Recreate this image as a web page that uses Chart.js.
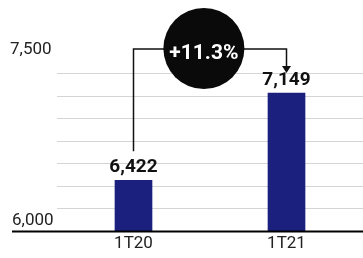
<!DOCTYPE html>
<html><head><meta charset="utf-8">
<script src="https://cdn.jsdelivr.net/npm/chart.js@4.4.1/dist/chart.umd.min.js"></script>
<style>html,body{margin:0;padding:0;background:#fff}#wrap{width:363px;height:258px}</style>
</head><body><div id="wrap"><canvas id="c" width="363" height="258"></canvas></div>
<script>
const categories = ['1T20', '1T21'];
const values = [6422, 7149];
const yTickValues = [7500, 6000];
const yTickLabels = ['7,500', '6,000'];
const changeLabel = '+11.3%';

const FONT = 'Roboto, "Liberation Sans", sans-serif';

const annotate = {
  id: 'annotate',
  afterDraw(chart) {
    const ctx = chart.ctx;
    const ys = chart.scales.y;
    const area = chart.chartArea;
    const meta = chart.getDatasetMeta(0);
    ctx.save();
    // baseline
    const by = ys.getPixelForValue(ys.min);
    ctx.strokeStyle = '#000';
    ctx.lineWidth = 2;
    ctx.beginPath();
    ctx.moveTo(12, by + 0.5);
    ctx.lineTo(area.right, by + 0.5);
    ctx.stroke();
    // y labels
    ctx.fillStyle = '#222';
    ctx.font = '17px ' + FONT;
    ctx.textAlign = 'left';
    ctx.textBaseline = 'middle';
    yTickValues.forEach((v, i) => {
      const py = ys.getPixelForValue(v);
      const off = v === ys.min ? -10 : -1;
      ctx.fillText(yTickLabels[i], v === ys.min ? 12 : 10, py + off);
    });
    // value labels
    ctx.fillStyle = '#111';
    ctx.font = 'bold 19px ' + FONT;
    ctx.textAlign = 'center';
    const pts = meta.data.map((b, i) => ({x: b.x, y: b.y}));
    pts.forEach((p, i) => {
      ctx.fillText(values[i].toLocaleString('en-US'), p.x, p.y - 13);
    });
    // connector
    const lineY = ys.getPixelForValue(ys.max) - 2;
    const x1 = pts[0].x, x2 = pts[1].x;
    const cx = x1 + (x2 - x1) * 0.46;
    const r = 40.5;
    ctx.strokeStyle = '#111';
    ctx.lineWidth = 1.5;
    ctx.beginPath();
    ctx.moveTo(x1, pts[0].y - 29);
    ctx.lineTo(x1, lineY);
    ctx.lineTo(x2, lineY);
    ctx.lineTo(x2, pts[1].y - 24);
    ctx.stroke();
    // arrow head
    const tipY = pts[1].y - 20;
    ctx.fillStyle = '#111';
    ctx.beginPath();
    ctx.moveTo(x2 - 4.5, tipY - 7);
    ctx.lineTo(x2 + 4.5, tipY - 7);
    ctx.lineTo(x2, tipY);
    ctx.closePath();
    ctx.fill();
    // circle
    ctx.fillStyle = '#0a0a0a';
    ctx.beginPath();
    ctx.arc(cx, lineY - 0.5, r, 0, Math.PI * 2);
    ctx.fill();
    ctx.fillStyle = '#fff';
    ctx.font = 'bold 21px ' + FONT;
    ctx.textAlign = 'center';
    ctx.textBaseline = 'middle';
    ctx.fillText(changeLabel, cx, lineY + 5);
    ctx.restore();
  }
};

new Chart(document.getElementById('c'), {
  type: 'bar',
  data: {
    labels: categories,
    datasets: [{ data: values, backgroundColor: '#1b1f7e', barThickness: 37 }]
  },
  options: {
    responsive: false,
    devicePixelRatio: 1,
    animation: false,
    events: [],
    layout: { padding: { left: 57, top: 51, right: 0, bottom: 0 } },
    plugins: { legend: { display: false }, tooltip: { enabled: false } },
    scales: {
      x: {
        grid: { display: false, drawTicks: false },
        border: { display: false },
        ticks: { font: { family: FONT, size: 17 }, color: '#222', padding: 3 },
        afterFit: s => { s.height = 27; }
      },
      y: {
        min: 6000, max: 7500,
        ticks: { display: false, stepSize: 187.5 },
        grid: {
          drawTicks: false,
          lineWidth: 1,
          color: c => (c.tick && (c.tick.value === 6000 || c.tick.value === 7500)) ? 'rgba(0,0,0,0)' : '#d4d4d4'
        },
        border: { display: false },
        afterFit: s => { s.width = 0; }
      }
    }
  },
  plugins: [annotate]
});
</script>
</body></html>
